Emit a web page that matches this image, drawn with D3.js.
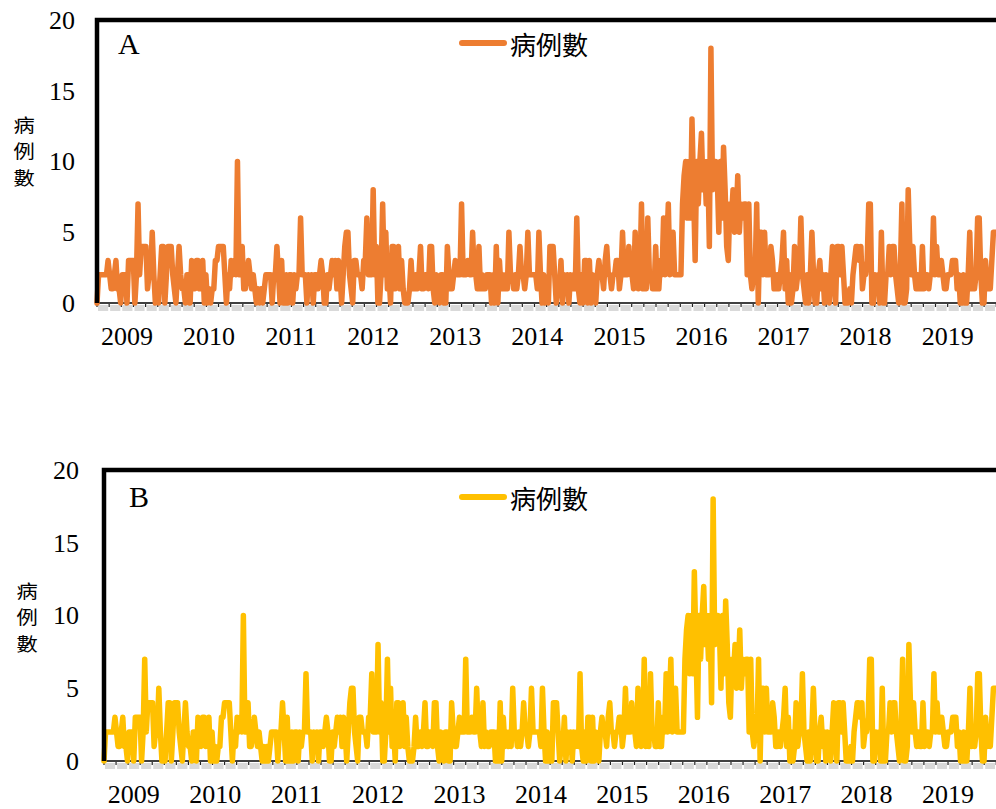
<!DOCTYPE html>
<html>
<head>
<meta charset="utf-8">
<script src="https://cdn.jsdelivr.net/npm/d3@7"></script>
<style>
  body { margin: 0; background: #fff; }
  svg { display: block; }
</style>
</head>
<body>
<div id="chart"></div>
<script>
// weekly case counts, starting at week 8 of 2009
const cases = [
  0,2,2,2,2,2,2,3,2,1, 1,2,3,1,1,0,2,2,2,0, 3,3,3,3,0,2,7,2,4,4, 4,4,1,2,2,5,2,0,1,0,
  2,4,4,0,2,4,4,4,2,1, 0,2,4,2,1,1,0,2,2,0, 3,2,1,3,3,1,2,3,0,2, 0,1,0,1,1,3,3,4,4,4,
  4,2,0,2,1,3,2,3,2,10, 2,2,4,1,1,2,3,2,1,2, 1,0,1,0,1,0,1,2,2,2, 2,0,2,2,4,2,0,3,0,0,
  2,0,2,2,0,2,1,2,2,6, 2,2,2,0,2,1,2,0,2,2, 1,2,3,2,0,0,2,1,2,3, 2,3,1,3,2,0,2,4,5,5,
  2,1,0,3,3,2,2,2,1,3, 3,6,2,2,2,8,2,4,0,0, 2,7,2,5,1,2,0,4,4,1, 2,4,1,3,1,0,0,0,1,3,
  1,1,2,1,2,4,1,1,2,2, 1,4,4,1,0,2,1,0,2,2, 0,0,4,2,1,1,2,3,2,2, 2,7,2,2,2,3,2,2,5,2,
  2,1,4,1,2,1,1,2,2,2, 0,2,0,4,0,3,1,2,1,2, 1,5,2,2,1,2,1,2,4,2, 2,1,2,5,2,2,2,2,2,1,
  5,2,0,2,0,1,0,4,4,4, 2,0,1,1,3,0,2,1,2,0, 2,1,2,1,6,1,0,2,0,3, 3,0,3,0,2,1,0,2,3,2,
  2,1,3,4,2,2,1,2,2,3, 3,1,2,5,2,2,2,4,2,2, 1,5,2,1,2,7,1,2,1,6, 2,2,1,1,4,1,1,3,2,6,
  2,4,7,2,4,5,2,2,2,2, 2,7,9,10,6,10,6,13,8,3, 10,7,10,12,8,10,7,10,4,18, 8,10,10,9,5,10,6,11,8,4,
  3,7,6,8,5,6,9,5,7,6, 7,7,2,7,2,1,2,2,7,0, 5,5,2,5,2,2,2,4,3,1, 1,2,1,2,3,5,1,3,0,2,
  0,1,4,1,2,2,6,2,1,0, 2,0,2,5,2,0,0,2,3,1, 2,0,2,1,0,2,4,2,0,4, 4,2,4,2,0,0,0,1,0,2,
  3,4,4,3,4,1,2,2,3,7, 7,0,0,2,1,2,0,5,0,0, 2,2,4,2,4,4,2,1,0,2, 7,0,0,1,8,4,2,4,2,1,
  2,1,1,4,1,2,2,1,2,2, 6,2,4,2,2,3,2,1,1,2, 2,2,3,3,3,1,2,0,0,2, 0,0,2,5,1,2,1,2,6,6,
  2,0,0,3,1,2,1,3,5,5
];
const years = [2009, 2010, 2011, 2012, 2013, 2014, 2015, 2016, 2017, 2018, 2019];
const yTicks = [0, 5, 10, 15, 20];
const seriesName = "病例數";
const firstWeek = 8;      // week of 2009 the series starts at
const weeksPerYear = 52;
const tickEvery = 7.7;    // minor tick spacing on the category axis, in weeks

const W = 996, H = 809;
const svg = d3.select("#chart").append("svg")
  .attr("width", W)
  .attr("height", H);

const panels = [
  { tag: "A", color: "#ED7D31", left: 97, right: 996, top: 20, bottom: 303,
    labelPad: 22, titleX: 24, titleY: 124, yearY: 345, tagX: 118, tagY: 54, legendY: 43 },
  { tag: "B", color: "#FFC000", left: 104, right: 996, top: 470, bottom: 761,
    labelPad: 25, titleX: 27, titleY: 590, yearY: 803, tagX: 129, tagY: 507, legendY: 497 }
];

panels.forEach(drawPanel);

function drawPanel(p) {
  const g = svg.append("g");

  const x = d3.scaleLinear()
    .domain([0, cases.length - 1])
    .range([p.left, p.right - 1]);
  const y = d3.scaleLinear()
    .domain([0, 20])
    .range([p.bottom, p.top]);

  // gray band + little ticks under the axis
  const tickIdx = d3.range(0, cases.length + tickEvery, tickEvery);
  g.append("g").selectAll("rect")
    .data(tickIdx.slice(0, -1))
    .enter().append("rect")
    .attr("x", d => x(d) + 1)
    .attr("y", p.bottom + 2)
    .attr("width", d => Math.max(0, Math.min(x(d + tickEvery), W) - x(d) - 2))
    .attr("height", 6)
    .attr("fill", "#d9d9d9");
  g.append("g").selectAll("line")
    .data(tickIdx)
    .enter().append("line")
    .attr("x1", d => x(d)).attr("x2", d => x(d))
    .attr("y1", p.bottom).attr("y2", p.bottom + 4)
    .attr("stroke", "#222")
    .attr("stroke-width", 1.2);

  // bottom axis line
  g.append("line")
    .attr("x1", p.left).attr("x2", W)
    .attr("y1", p.bottom).attr("y2", p.bottom)
    .attr("stroke", "#404040")
    .attr("stroke-width", 2);

  // the series
  const line = d3.line()
    .x((d, i) => x(i))
    .y(d => y(d));
  g.append("path")
    .datum(cases)
    .attr("d", line)
    .attr("fill", "none")
    .attr("stroke", p.color)
    .attr("stroke-width", 5.5)
    .attr("stroke-linejoin", "round")
    .attr("stroke-linecap", "round");

  // frame: thick left and top
  g.append("path")
    .attr("d", `M${p.left},${p.bottom} V${p.top} H${W + 5}`)
    .attr("fill", "none")
    .attr("stroke", "#000")
    .attr("stroke-width", 4.5);

  // y axis labels
  const yAxis = d3.axisLeft(y)
    .tickValues(yTicks)
    .tickSize(0)
    .tickPadding(p.labelPad);
  const ya = g.append("g")
    .attr("transform", `translate(${p.left},0)`)
    .call(yAxis);
  ya.select(".domain").remove();
  ya.selectAll("text")
    .attr("font-family", "'Liberation Serif', 'Times New Roman', serif")
    .attr("font-size", 26)
    .attr("fill", "#000");

  // x axis: year labels centred on each year
  const yearIdx = years.map(yr => (yr - 2009) * weeksPerYear + weeksPerYear / 2 - firstWeek + 1);
  g.append("g").selectAll("text")
    .data(years)
    .enter().append("text")
    .attr("x", (d, i) => x(yearIdx[i]))
    .attr("y", p.yearY)
    .attr("text-anchor", "middle")
    .attr("font-family", "'Liberation Serif', 'Times New Roman', serif")
    .attr("font-size", 26)
    .text(d => d);

  // vertical y title, one character per line (chars are a bit wide in the original)
  g.append("g").selectAll("text")
    .data(seriesName.split(""))
    .enter().append("text")
    .attr("transform", (d, i) => `translate(${p.titleX},${p.titleY + i * 26.5}) scale(1.18,1)`)
    .attr("text-anchor", "middle")
    .attr("dominant-baseline", "central")
    .attr("font-family", "'Noto Sans CJK TC', 'Noto Sans CJK SC', sans-serif")
    .attr("font-size", 18)
    .text(d => d);

  // panel letter
  g.append("text")
    .attr("x", p.tagX)
    .attr("y", p.tagY)
    .attr("font-family", "'Liberation Serif', 'Times New Roman', serif")
    .attr("font-size", 30)
    .text(p.tag);

  // legend
  const lg = g.append("g").attr("transform", `translate(462,${p.legendY})`);
  lg.append("line")
    .attr("x1", 0).attr("x2", 42)
    .attr("stroke", p.color)
    .attr("stroke-width", 6)
    .attr("stroke-linecap", "round");
  lg.append("text")
    .attr("x", 48)
    .attr("dominant-baseline", "central")
    .attr("font-family", "'Noto Sans CJK TC', 'Noto Sans CJK SC', sans-serif")
    .attr("font-size", 26)
    .text(seriesName);
}
</script>
</body>
</html>
